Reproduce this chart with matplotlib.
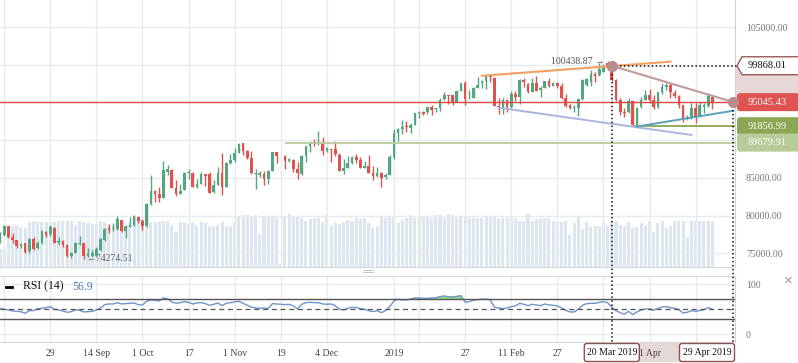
import numpy as np
import matplotlib.pyplot as plt
import matplotlib.transforms as mtransforms
from matplotlib.patches import Rectangle, FancyBboxPatch, Polygon

plt.rcParams['font.family'] = ['Liberation Serif', 'DejaVu Serif']

# ── daily candles, 13 Aug 2018 .. 29 Apr 2019 (index points) ──
open_ = [76540, 77430, 78580, 77120, 76760, 75970, 76330, 75340, 76930, 75660,
         76330, 77870, 77520, 78400, 76330, 76630, 76100, 74640, 75080, 76190,
         76330, 74640, 74640, 74640, 75430, 76760, 78315, 78180, 78180, 79420,
         77960, 78550, 78750, 79850, 79280, 78620, 81540, 83300, 82860, 82370,
         85820, 86050, 83700, 82860, 83390, 85610, 85690, 83830, 84190, 85510,
         85510, 83170, 84060, 85690, 83830, 86930, 87370, 88340, 89580, 88600,
         87680, 85510, 85380, 85470, 84850, 85910, 88390, 87900, 87900, 87280,
         87370, 86180, 85510, 87900, 89230, 89720, 89670, 89720, 88600, 88830,
         88830, 88030, 85950, 86350, 87010, 87810, 87370, 86350, 86580, 85690,
         85290, 85690, 85160, 85380, 87810, 90910, 91480, 91880, 91650, 92000,
         93560, 93700, 93700, 94440, 94090, 94310, 95420, 95990, 95990, 95100,
         96520, 97580, 95550, 95630, 96960, 97540, 97850, 98550, 98280, 94570,
         94310, 95330, 94440, 96120, 95770, 97980, 97410, 96430, 97620, 96610,
         96960, 97890, 97220, 97620, 97220, 95550, 94670, 94310, 94310, 95420,
         97320, 97670, 98780, 98640, 99080, 100300, 99700, 97980, 95330, 93780,
         93700, 95190, 92000, 94440, 95330, 95990, 95330, 94360, 96350, 97090,
         97320, 96300, 95900, 94670, 92900, 92980, 94310, 93240, 94440, 94570,
         95770]
high = [77870, 78690, 78620, 77650, 76830, 76330, 76430, 77000, 77120, 76630,
        78090, 77950, 78750, 78490, 77120, 76700, 76170, 75210, 76540, 77300,
        76370, 75660, 75430, 75800, 77000, 78350, 78890, 78850, 79950, 79480,
        78690, 79810, 80080, 79950, 79550, 81710, 85380, 83390, 83830, 87240,
        86710, 86140, 84720, 84190, 85820, 86180, 85780, 84810, 85820, 85580,
        85820, 84720, 86480, 88340, 87150, 88130, 88920, 89620, 89620, 88700,
        88570, 86140, 85910, 85910, 85980, 88430, 88430, 87950, 87970, 87680,
        87440, 87150, 87970, 89290, 89890, 90160, 91260, 90460, 89130, 88870,
        89890, 88340, 87460, 87900, 87860, 88170, 87810, 87240, 88030, 86580,
        86480, 85780, 85610, 88030, 91480, 91550, 92680, 92540, 92240, 93640,
        93870, 93870, 94440, 94665, 94300, 95630, 96350, 96020, 96050, 96590,
        97620, 97850, 96690, 97090, 98340, 97980, 98640, 98580, 98340, 95630,
        95550, 95420, 96520, 96520, 98050, 98200, 97540, 98200, 98550, 97180,
        97910, 98200, 97750, 97750, 97540, 96080, 94760, 94670, 95550, 98050,
        98200, 99300, 99080, 100190, 100060, 100438.87, 99868.01, 98110, 95600, 94230,
        95550, 95330, 94400, 95770, 96650, 96750, 95990, 96390, 97540, 97540,
        97540, 96650, 95950, 94700, 93340, 94890, 94890, 95100, 94890, 96220,
        95900]
low = [76330, 77300, 76980, 76330, 75660, 75660, 75000, 75000, 75430, 75570,
       76230, 77120, 77300, 76370, 76100, 75800, 74470, 74340, 75000, 76060,
       74274.51, 74500, 74550, 74470, 75340, 76670, 77650, 77990, 78090, 77820,
       76990, 78490, 78620, 78980, 78090, 78550, 81470, 81840, 81840, 82290,
       85380, 83620, 82600, 82820, 83350, 84850, 83750, 83700, 84150, 83960,
       82990, 82990, 84020, 82730, 83790, 86800, 87150, 88300, 88030, 87500,
       85580, 83510, 85160, 84060, 84190, 85870, 86930, 87850, 86180, 87070,
       85820, 84850, 85380, 87150, 88470, 89230, 89360, 88030, 88470, 87070,
       87940, 85910, 85510, 86270, 86840, 86930, 86300, 86270, 85610, 84720,
       85160, 83830, 84850, 85340, 87500, 89890, 90780, 91120, 90990, 91970,
       92980, 93340, 93430, 93340, 93700, 93910, 95330, 94800, 94670, 95050,
       96480, 94670, 95500, 95550, 96920, 96960, 96790, 97670, 94530, 93470,
       93430, 93700, 94230, 95230, 94800, 97090, 96220, 96390, 96520, 95770,
       96920, 97010, 97180, 96880, 95420, 94440, 94130, 93700, 93240, 95330,
       97220, 97220, 97670, 98550, 99040, 99370, 97900, 95200, 93340, 93110,
       93560, 91856.99, 91900, 94310, 95290, 94890, 94130, 94230, 96080, 96650,
       95550, 95550, 94230, 92450, 92680, 92810, 92240, 93110, 93560, 94440,
       94130]
close = [77520, 78580, 77120, 76760, 76010, 76230, 75210, 76900, 75570, 76330,
         77950, 77390, 78450, 76410, 76630, 76100, 74640, 75080, 76410, 76410,
         74640, 75080, 75080, 75530, 76860, 78260, 78090, 78400, 79510, 77990,
         78620, 78690, 79950, 79280, 78620, 81540, 83300, 82860, 82290, 86050,
         86140, 83700, 82860, 83300, 85690, 85820, 83830, 84150, 85510, 85290,
         83030, 84060, 85690, 83830, 86930, 87370, 88340, 89490, 88600, 87680,
         85610, 85690, 85610, 84850, 85910, 88390, 87900, 87950, 87240, 87460,
         86180, 85610, 87900, 89230, 89580, 89490, 89800, 88600, 89000, 88700,
         88130, 85950, 86270, 87010, 87810, 87370, 86350, 86620, 85690, 85290,
         85610, 85020, 85380, 87730, 90910, 91480, 91790, 91710, 92000, 93560,
         93740, 93510, 94360, 94000, 94270, 95330, 95990, 95860, 95100, 96520,
         97580, 95420, 95630, 96960, 97320, 97850, 98550, 98340, 94570, 94360,
         95330, 94440, 96120, 95770, 97980, 97670, 96430, 97620, 96560, 96960,
         97850, 97220, 97620, 97220, 95550, 94530, 94230, 94440, 95420, 97980,
         98110, 98780, 98550, 99440, 99740, 99530, 97980, 95330, 93780, 93560,
         95230, 92000, 94310, 95330, 95990, 95330, 94440, 96350, 97090, 97320,
         96350, 95900, 94670, 92900, 93110, 94310, 93110, 94670, 94670, 95900,
         95045.43]
volume = [18, 18, 41, 41, 42, 40, 39, 45, 46, 45,
          45, 45, 45, 45, 46, 46, 46, 46, 42, 46,
          45, 44, 43, 43, 46, 45, 42, 44, 46, 47,
          41, 45, 50, 50, 47, 51, 45, 45, 45, 46,
          46, 42, 35, 45, 45, 43, 45, 42, 45, 44,
          41, 40, 42, 45, 40, 41, 45, 51, 52, 52,
          50, 52, 33, 50, 50, 50, 49, 3, 50, 53,
          51, 51, 49, 46, 48, 49, 49, 45, 52, 42,
          44, 43, 45, 47, 46, 49, 48, 49, 44, 39,
          40, 51, 49, 51, 51, 44, 47, 49, 52, 49,
          51, 50, 50, 48, 52, 52, 49, 53, 52, 49,
          50, 50, 49, 49, 49, 49, 51, 51, 50, 48,
          49, 49, 50, 49, 46, 46, 53, 46, 48, 48,
          49, 49, 46, 45, 45, 46, 32, 44, 50, 38,
          45, 40, 41, 41, 45, 41, 46, 46, 42, 41,
          45, 39, 40, 44, 42, 46, 35, 44, 46, 39,
          41, 46, 46, 46, 30, 46, 46, 46, 46, 46,
          46]
rsi = [52, 50, 48.7, 46.7, 46, 45.3, 42, 47.3, 47.3, 51.3,
       52, 53.3, 55.3, 50, 48.7, 46.7, 44, 45.3, 48.7, 48,
       44.7, 45.3, 46, 48.7, 52.7, 59.3, 60.7, 60.7, 63.3, 60.7,
       61.3, 62, 62.7, 59.3, 58.7, 66, 68.7, 68, 66.7, 72.7,
       71.3, 64.7, 62, 63.3, 65.3, 64, 60.7, 62.7, 63.3, 61.3,
       58, 60, 62.7, 57.3, 62, 63.3, 64.7, 66, 62, 58,
       54, 52.7, 52, 52.7, 51.3, 61.3, 60.7, 60, 59.3, 60,
       56.7, 50.7, 60, 63.3, 64, 63.3, 63.3, 60.7, 60, 60.7,
       57.3, 50, 48.7, 52, 54, 53.3, 51.3, 50, 47.3, 45.3,
       47.3, 43.3, 47.3, 55.3, 66.7, 70, 68.7, 68.7, 70.7, 72.7,
       72.7, 72, 72, 72.7, 73.3, 75.3, 76.7, 75.3, 74.7, 76,
       77.3, 64, 65.3, 68, 69.3, 70, 70.7, 68.7, 54, 52.7,
       51.3, 52.7, 55.3, 56.7, 62, 60, 57.3, 60, 58.7, 57.3,
       60.7, 58.7, 58, 56.7, 52.7, 48, 44.7, 44.7, 50, 58,
       61.3, 62, 62, 64, 65.3, 63.3, 54, 47.3, 43.3, 40,
       46, 39.3, 44.7, 48.7, 50.7, 50.7, 48, 52, 54.7, 55.3,
       53.3, 52, 49.3, 42.7, 44, 47.3, 46, 47.3, 49.3, 53.3,
       50]
assert len(open_) == len(high) == len(low) == len(close) == len(volume) == len(rsi)

tick_pos = [1, 12, 23, 34, 45, 56, 67, 78, 94, 100, 111, 122, 133, 144, 155, 166]
tick_lab = ['', '29', '14 Sep', '1 Oct', '17', '1 Nov', '19', '4 Dec', '2019',
            '', '27', '11 Feb', '27', '', '1 Apr', '']
price_ticks = [75000, 80000, 85000, 90000, 95000, 100000, 105000]
price_labels = ['75000.00', '80000.00', '85000.00', '', '', '', '105000.00']  # others sit under the tags

last_price = 95045.43
measure_hi = 99868.01
support_1 = 91856.99
support_2 = 89679.91
peak, peak_i = 100438.87, 145
trough, trough_i = 74274.51, 20
support_1_from, support_2_from = 151, 68

measure_i = [146, 175]
measure_dates = ['20 Mar 2019', '29 Apr 2019']

# drawn trend lines (index, price)
orange_x, orange_y = [115, 160], [98540, 100410]
lilac_x, lilac_y = [119, 165], [94300, 90690]
teal_x, teal_y = [152, 175], [91810, 93910]

GREEN, RED = '#53a67f', '#e0524d'
W, H = 798, 363
fig = plt.figure(figsize=(W / 100, H / 100), dpi=100, facecolor='white')
main_rect = [0, 1 - 267 / H, 735 / W, 267 / H]
ax_v = fig.add_axes(main_rect, zorder=1)
ax = fig.add_axes(main_rect, zorder=2)
ax_r = fig.add_axes([0, 1 - 342 / H, 735 / W, 66 / H], zorder=2)

idx = np.arange(len(close))
o, h, l, c = map(np.array, (open_, high, low, close))
x_lo, x_hi = 0, 175.4

# ── volume underlay ──
ax_v.bar(idx, volume, width=0.72, color='#dce6f1', lw=0)
ax_v.set_xlim(x_lo, x_hi)
ax_v.set_ylim(0, max(volume) * 267 / 53)
ax_v.axis('off')

# ── price pane ──
ax.patch.set_visible(False)
colors = np.where(c >= o, GREEN, RED)
ax.vlines(idx, l, h, colors=colors, lw=1, zorder=3)
ax.bar(idx, np.maximum(np.abs(c - o), 60), bottom=np.minimum(o, c), width=0.64,
       color=colors, lw=0, zorder=4)

ax.axhline(last_price, color='#e04a45', lw=1, zorder=5)
ax.hlines(support_2, support_2_from, x_hi, color='#b9cc9c', lw=1.3, zorder=5)
ax.hlines(support_1, support_1_from, x_hi, color='#8aa84e', lw=1.3, zorder=5)
ax.plot(orange_x, orange_y, color='#f0a060', lw=1.5, zorder=6)
ax.plot(lilac_x, lilac_y, color='#a9b6dd', lw=1.4, zorder=6)
ax.plot(teal_x, teal_y, color='#5ba3bd', lw=1.4, zorder=6)
ax.plot(measure_i, [measure_hi, last_price], color='#c09a9a', lw=1.5, zorder=6)

ax.text(peak_i - 0.7, peak, '100438.87 →', ha='right', va='center', fontsize=7,
        color='#555', family=['Liberation Serif', 'DejaVu Sans'])
ax.text(trough_i + 0.6, trough, '←74274.51', ha='left', va='center', fontsize=7,
        color='#666', family=['Liberation Serif', 'DejaVu Sans'])

ax.set_xlim(x_lo, x_hi)
ax.set_ylim(73184, 108588)
ax.set_xticks(tick_pos)
ax.set_yticks(price_ticks)
ax.set_yticklabels(price_labels)
ax.yaxis.tick_right()
ax.tick_params(axis='y', length=0, pad=8, labelsize=7, labelcolor='#777')
ax.tick_params(axis='x', length=0, labelbottom=False)
ax.grid(True, color='#e8ebee', lw=1)
ax.set_axisbelow(True)
for s in ['top', 'left']:
    ax.spines[s].set_visible(False)
ax.spines['bottom'].set_color('#d8d8d8')
ax.spines['right'].set_color('#d0d0d0')

# ── RSI pane ──
r = np.array(rsi)
ax_r.fill_between(idx, 70, r, where=r > 70, interpolate=True, color='#8ddc8a', lw=0)
ax_r.plot(idx, r, color='#6e95c9', lw=1)
ax_r.axhline(70, color='#555', lw=1)
ax_r.axhline(30, color='#555', lw=1)
ax_r.axhline(50, color='#555', lw=0.9, ls=(0, (4, 3)))
ax_r.set_xlim(x_lo, x_hi)
ax_r.set_ylim(-15.4, 116.6)
ax_r.set_yticks([0, 100])
ax_r.yaxis.tick_right()
ax_r.tick_params(axis='y', length=0, pad=8, labelsize=7, labelcolor='#777')
ax_r.set_xticks(tick_pos, tick_lab)
ax_r.tick_params(axis='x', length=0, pad=5, labelsize=7, labelcolor='#444')
ax_r.grid(True, color='#e8ebee', lw=1)
ax_r.set_axisbelow(True)
ax_r.spines['left'].set_visible(False)
for s in ['top', 'bottom']:
    ax_r.spines[s].set_color('#d8d8d8')
ax_r.spines['right'].set_color('#d0d0d0')

ax_r.plot([0.008, 0.017], [0.84, 0.84], transform=ax_r.transAxes, color='k',
          lw=2, clip_on=False)
ax_r.text(0.031, 0.84, 'RSI (14)', transform=ax_r.transAxes, fontsize=8.5,
          va='center', color='#111')
ax_r.text(0.098, 0.84, '56.9', transform=ax_r.transAxes, fontsize=8.5,
          va='center', color='#4a78b5')

band = mtransforms.blended_transform_factory(ax_r.transData, ax_r.transAxes)
ax_r.add_patch(Rectangle((measure_i[0], -0.31), measure_i[1] - measure_i[0], 0.29,
                         transform=band, color='#e7d8d8', lw=0, clip_on=False, zorder=0))

# ── overlay: measuring tool, price tags ──
ov = fig.add_axes([0, 0, 1, 1], zorder=10)
ov.set_xlim(0, W)
ov.set_ylim(0, H)
ov.axis('off')


def to_px(a, x, y):
    return a.transData.transform((x, y))


x0, y_hi = to_px(ax, measure_i[0], measure_hi)
x1, y_last = to_px(ax, measure_i[1], last_price)

ov.add_patch(Rectangle((736, y_last), W - 736, y_hi - y_last, color='#e7d8d8', lw=0, zorder=1))
dot = dict(color='#111', lw=1.1, ls=(0, (1, 1.6)), zorder=2)
ov.plot([x0, x0], [y_hi, 20], **dot)
ov.plot([x1, x1], [y_last, 20], **dot)
ov.plot([x0, 737], [y_hi, y_hi], **dot)
ov.plot([x0, x1], [y_hi, y_last], 'o', ms=7, color='#b98c8c', zorder=5)

ov.add_patch(Polygon([(737, y_hi), (742, y_hi + 9), (800, y_hi + 9), (800, y_hi - 9),
                      (742, y_hi - 9)], closed=True, fc='white', ec='#9b5a5a', lw=1, zorder=3))
ov.text(748, y_hi, f'{measure_hi:.2f}', fontsize=7.5, va='center', color='#111', zorder=4)

for price, fc in [(last_price, '#df5451'), (support_1, '#8ca753'), (support_2, '#b8cc99')]:
    yc = to_px(ax, 0, price)[1]
    ov.add_patch(FancyBboxPatch((737, yc - 9), 70, 18, boxstyle='round,pad=0,rounding_size=3',
                                fc=fc, ec='none', zorder=3))
    ov.text(748, yc, f'{price:.2f}', fontsize=7.5, va='center', color='white', zorder=4)

for i, lab in zip(measure_i, measure_dates):
    cx = min(to_px(ax_r, i, 0)[0], 735 - 28)
    ov.add_patch(FancyBboxPatch((cx - 27.5, 1.5), 55, 18, boxstyle='round,pad=0,rounding_size=2.5',
                                fc='white', ec='#8b5050', lw=1, zorder=3))
    ov.text(cx, 10.5, lab, ha='center', va='center', fontsize=7, color='#111', zorder=4)

ov.plot([363, 373], [93.5, 93.5], color='#bbb', lw=0.6)
ov.plot([363, 373], [91.5, 91.5], color='#bbb', lw=0.6)
ov.text(788, 82, '×', fontsize=11, color='#999', ha='center', va='center',
        family=['Liberation Sans', 'DejaVu Sans'])

fig.savefig('out.png', dpi=100, facecolor='white')
